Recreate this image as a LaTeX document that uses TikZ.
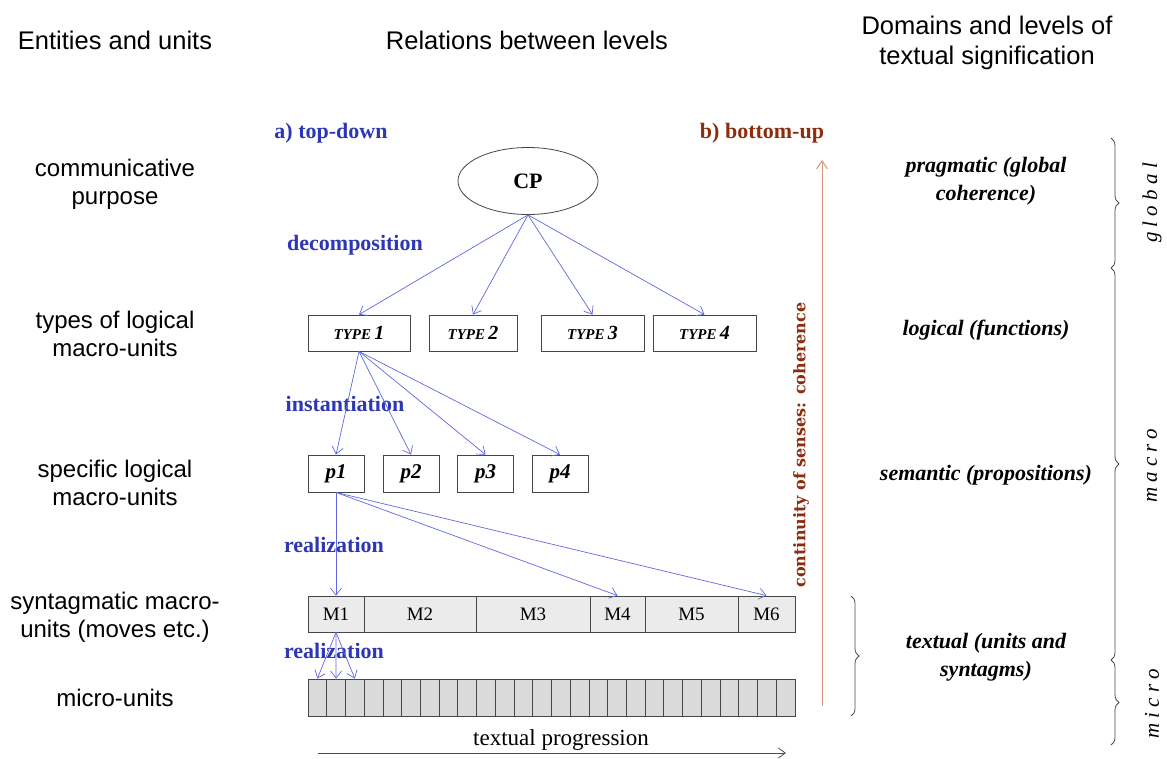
\documentclass[tikz,border=0pt]{standalone}
\usepackage{fontspec}
\setmainfont{Liberation Serif}
\newfontfamily\hsans{Liberation Sans}
\newfontfamily\slabb{DejaVu Serif}
\newfontfamily\spit[LetterSpace=25]{Liberation Serif}
\usetikzlibrary{arrows.meta,decorations.pathreplacing,shapes.geometric}
\definecolor{arrblue}{RGB}{95,105,225}
\definecolor{txtblue}{RGB}{45,55,180}
\definecolor{txtbrown}{RGB}{140,45,15}
\definecolor{arrbrown}{RGB}{212,150,128}
\definecolor{boxline}{RGB}{70,70,70}
\definecolor{mfill}{RGB}{235,235,235}
\definecolor{ufill}{RGB}{218,218,218}
\begin{document}
\begin{tikzpicture}[x=1pt,y=-1pt,
 header/.style={font=\hsans\fontsize{25.5}{30}\selectfont, align=center, inner sep=0pt},
 leftlab/.style={font=\hsans\fontsize{24}{28}\selectfont, align=center, inner sep=0pt},
 bluelab/.style={font=\bfseries\fontsize{22}{24}\selectfont, text=txtblue, inner sep=0pt},
 domlab/.style={font=\bfseries\itshape\fontsize{22}{28.5}\selectfont, align=center, inner sep=0pt},
 tbox/.style={draw=boxline, line width=0.8pt, minimum height=36pt, inner sep=0pt, font=\bfseries\itshape\fontsize{20}{20}\selectfont},
 pbox/.style={draw=boxline, line width=0.8pt, minimum width=56pt, minimum height=37pt, inner sep=0pt, font=\bfseries\itshape\fontsize{21}{21}\selectfont},
 mcell/.style={draw=boxline, line width=0.8pt, fill=mfill, minimum height=36pt, inner sep=0pt, font=\fontsize{19}{19}\selectfont},
 ucell/.style={draw=boxline, line width=0.8pt, fill=ufill, minimum height=37pt, minimum width=18.73pt, inner sep=0pt},
 barr/.style={draw=arrblue, line width=0.7pt, -{Straight Barb[length=7pt,width=11pt]}},
 bracestyle/.style={draw=black!70, line width=0.8pt, decorate, decoration={brace, amplitude=8pt}},
 lev/.style={font=\spit\itshape\fontsize{21}{21}\selectfont, rotate=90, inner sep=0pt}
]
\useasboundingbox[fill=white] (0,0) rectangle (1167,758);

% headers
\node[header] (h1) at (115,40) {Entities and units};
\node[header] (h2) at (527,40) {Relations between levels};
\node[header] (h3) at (987,43) {Domains and levels of\\textual signification};

% left labels
\node[leftlab] (l1) at (115,184) {communicative\\purpose};
\node[leftlab] (l2) at (115,334) {types of logical\\macro-units};
\node[leftlab] (l3) at (115,483) {specific logical\\macro-units};
\node[leftlab] (l4) at (115,617) {syntagmatic macro-\\units (moves etc.)};
\node[leftlab] (l5) at (115,698) {micro-units};

% blue / brown labels
\node[bluelab] (td) at (331,133) {a) top-down};
\node[bluelab] (dec) at (355,245) {decomposition};
\node[bluelab] (ins) at (345,404) {instantiation};
\node[bluelab] (rea1) at (334,545) {realization};
\node[bluelab] (rea2) at (334,651) {realization};
\node[bluelab, text=txtbrown] (bu) at (762,133) {b) bottom-up};

% CP
\node[ellipse, draw=boxline, line width=0.8pt, minimum width=140pt, minimum height=67pt, inner sep=0pt,
      font=\bfseries\fontsize{22}{22}\selectfont] (cp) at (528,181) {CP};

% types
\newcommand{\typelab}[1]{{\fontsize{15}{15}\selectfont TYPE}\,#1}
\node[tbox, minimum width=102pt] (t1) at (359,333) {\typelab{1}};
\node[tbox, minimum width=88pt] (t2) at (473,333) {\typelab{2}};
\node[tbox, minimum width=103pt] (t3) at (592.5,333) {\typelab{3}};
\node[tbox, minimum width=103pt] (t4) at (704.5,333) {\typelab{4}};

% propositions
\node[pbox] (p1) at (336,473.5) {p1};
\node[pbox] (p2) at (411,473.5) {p2};
\node[pbox] (p3) at (485.5,473.5) {p3};
\node[pbox] (p4) at (560,473.5) {p4};

% moves
\node[mcell, minimum width=56pt] (m1) at (336,614) {M1};
\node[mcell, minimum width=112pt] (m2) at (420,614) {M2};
\node[mcell, minimum width=114pt] (m3) at (533,614) {M3};
\node[mcell, minimum width=55pt] (m4) at (617.5,614) {M4};
\node[mcell, minimum width=93pt] (m5) at (691.5,614) {M5};
\node[mcell, minimum width=57pt] (m6) at (766.5,614) {M6};

% micro units
\foreach \i in {1,...,26}{
  \node[ucell] (u\i) at ({308+(\i-0.5)*18.7308},697.5) {};
}

% arrows top-down
\foreach \t in {t1,t2,t3,t4}{ \draw[barr] (cp.south) -- (\t.north); }
\foreach \p in {p1,p2,p3,p4}{ \draw[barr] (t1.south) -- (\p.north); }
\foreach \m in {m1,m4,m6}{ \draw[barr] (p1.south) -- (\m.north); }
\foreach \u in {u1,u2,u3}{ \draw[barr] (m1.south) -- (\u.north); }

% bottom-up arrow
\coordinate (bua) at (822,706);
\coordinate (bub) at (822,160);
\draw[draw=arrbrown, line width=1pt, -{Straight Barb[length=8pt,width=11pt]}] (bua) -- (bub);
\node[font=\slabb\bfseries\fontsize{16}{16}\selectfont, text=txtbrown, rotate=90, inner sep=0pt] (cont) at (801,445) {continuity of senses: coherence};

% textual progression
\coordinate (tpa) at (318,753);
\coordinate (tpb) at (786,753);
\draw[draw=black!70, line width=0.8pt, -{Straight Barb[length=7pt,width=10pt]}] (tpa) -- (tpb);
\node[font=\fontsize{23}{23}\selectfont, inner sep=0pt] (tp) at (561,740) {textual progression};

% domains
\node[domlab] (d1) at (986,181) {pragmatic (global\\coherence)};
\node[domlab] (d2) at (986,330) {logical (functions)};
\node[domlab] (d3) at (986,475) {semantic (propositions)};
\node[domlab] (d4) at (986,657) {textual (units and\\syntagms)};

% braces
\coordinate (b1a) at (1111,138);
\coordinate (b1b) at (1111,268);
\coordinate (b2b) at (1111,660);
\coordinate (b3b) at (1111,745);
\draw[bracestyle] (b1a) -- (b1b);
\draw[bracestyle] (b1b) -- (b2b);
\draw[bracestyle] (b2b) -- (b3b);
\coordinate (b4a) at (851,596);
\coordinate (b4b) at (851,716);
\draw[bracestyle] (b4a) -- (b4b);

\node[lev] (g) at (1152,203) {global};
\node[lev] (ma) at (1152,466) {macro};
\node[lev] (mi) at (1152,704) {micro};
\end{tikzpicture}
\end{document}
